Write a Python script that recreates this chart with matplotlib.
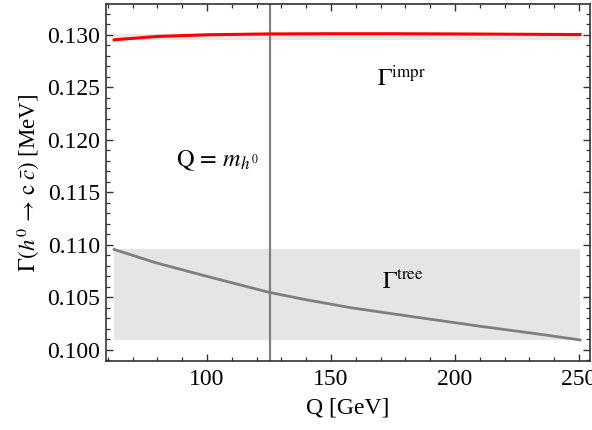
import matplotlib
matplotlib.use("Agg")
import matplotlib.pyplot as plt
from matplotlib.ticker import MultipleLocator, FormatStrFormatter
import numpy as np

plt.rcParams['font.family'] = ['Liberation Serif', 'DejaVu Serif']
plt.rcParams['mathtext.fontset'] = 'stix'

# Data
Q_tree = [62.6, 79.4, 99.6, 125.1, 140.0, 158.0, 182.5, 209.4, 236.3, 250.4]
gamma_tree = [0.10957, 0.1083, 0.10703, 0.10548, 0.10478, 0.10402, 0.10318, 0.10228, 0.10143, 0.10095]
Q_impr = [62.6, 80.0, 100.0, 125.0, 150.0, 175.0, 200.0, 225.0, 250.4]
gamma_impr = [0.12952, 0.12984, 0.13000, 0.13008, 0.13010, 0.13010, 0.13008, 0.13005, 0.13002]
m_h = 125.4
x_ticks = [100, 150, 200, 250]
y_ticks = [0.100, 0.105, 0.110, 0.115, 0.120, 0.125, 0.130]

fig = plt.figure(figsize=(5.92, 4.30), dpi=100)
ax = fig.add_axes([0.179, 0.1605, 0.8176, 0.830])

ax.fill_between([Q_tree[0], Q_tree[-1]], min(gamma_tree), max(gamma_tree),
                color='#e5e5e5', lw=0, zorder=1)
ax.fill_between([Q_impr[0], Q_impr[-1]], min(gamma_impr), max(gamma_impr),
                color='#e8e8e8', lw=0, zorder=1)

ax.plot(Q_tree, gamma_tree, color='#7f7f7f', lw=2.0, zorder=3, solid_joinstyle='round')
ax.plot(Q_impr, gamma_impr, color='#ff0000', lw=2.2, zorder=3, solid_joinstyle='round')
ax.axvline(m_h, color='#808080', lw=1.6, zorder=2)

ax.text(87.5, 0.11800, r'$\mathrm{Q}\,=\,m_{h^0}$', fontsize=17.5, va='center', ha='left')
ax.text(168.5, 0.12580, r'$\Gamma^{\mathrm{impr}}$', fontsize=17.5, va='center', ha='left')
ax.text(170.5, 0.10640, r'$\Gamma^{\mathrm{tree}}$', fontsize=17.5, va='center', ha='left')

ax.set_xlim(59.3, 254.4)
ax.set_ylim(0.09895, 0.13292)
ax.set_xticks(x_ticks)
ax.set_yticks(y_ticks)
ax.yaxis.set_major_formatter(FormatStrFormatter('%.3f'))
ax.xaxis.set_minor_locator(MultipleLocator(10))
ax.yaxis.set_minor_locator(MultipleLocator(0.001))

ax.tick_params(which='both', direction='in', top=True, right=True, colors='#333333',
               labelcolor='black', labelsize=17)
ax.tick_params(which='major', length=5, width=1.0)
ax.tick_params(which='minor', length=2.8, width=0.9)
ax.tick_params(axis='x', pad=6)
ax.tick_params(axis='y', pad=4)
for s in ax.spines.values():
    s.set_color('#333333')
    s.set_linewidth(1.2)

ax.set_xlabel('Q [GeV]', fontsize=17, labelpad=5)
ax.set_ylabel(r'$\Gamma(h^0\,\rightarrow\,\mathrm{c}\;\bar{c})$ [MeV]', fontsize=16.5, labelpad=5)

fig.savefig('out.png', dpi=100)
